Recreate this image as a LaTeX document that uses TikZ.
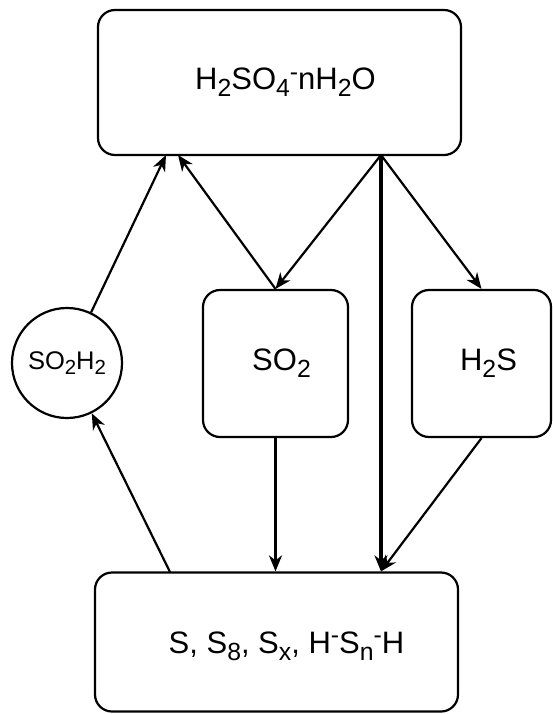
\documentclass[tikz,border=0pt]{standalone}
\usepackage{fontspec}
\setmainfont{Liberation Sans}
\usetikzlibrary{arrows.meta,calc}
\newcommand\sbs[1]{\raisebox{-0.22em}{\scalebox{0.8}{#1}}}
\newcommand\sps[1]{\raisebox{0.3em}{\scalebox{0.8}{#1}}}
\begin{document}
\begin{tikzpicture}[x=1pt,y=-1pt,
 box/.style={draw, line width=2.2pt, rounded corners=17pt, inner sep=0pt},
 circ/.style={draw, circle, line width=2.2pt, inner sep=0pt, minimum size=110pt},
 arr/.style={line width=2.2pt, -{Stealth[length=16pt,width=13pt,inset=5pt]}},
 txt/.style={font=\fontsize{31}{34}\selectfont},
 stxt/.style={font=\fontsize{25.5}{29}\selectfont}]
\useasboundingbox (0,0) rectangle (553,714);
\node[box, minimum width=363pt, minimum height=145pt,
  label={[txt,xshift=6pt]center:H\sbs{2}SO\sbs{4}\sps{-}nH\sbs{2}O}] (top) at (279.5,82.5) {};
\node[circ, label={[stxt]center:SO\sbs{2}H\sbs{2}}] (so2h2) at (67,363) {};
\node[box, minimum width=145pt, minimum height=147pt,
  label={[txt,xshift=6pt]center:SO\sbs{2}}] (so2) at (275.5,363.5) {};
\node[box, minimum width=139pt, minimum height=147pt,
  label={[txt,xshift=7pt]center:H\sbs{2}S}] (h2s) at (481.5,363.5) {};
\node[box, minimum width=363pt, minimum height=139pt,
  label={[txt,xshift=10pt,yshift=-4pt]center:S, S\sbs{8}, S\sbs{x}, H\sps{-}S\sbs{n}\sps{-}H}] (bot) at (276.5,642) {};
\coordinate (tA) at (166,155);
\coordinate (tB) at (178,155);
\coordinate (tC) at (381,155);
\coordinate (bA) at (170,572);
\draw[arr] (so2h2) -- (tA);
\draw[arr] (so2.north) -- (tB);
\draw[arr] (tC) -- (so2.north);
\draw[arr] (tC) -- (h2s.north);
\draw[arr, line width=3.2pt] (tC) -- (tC |- bot.north);
\draw[arr] (h2s.south) -- (tC |- bot.north);
\draw[arr] (so2.south) -- (so2.south |- bot.north);
\draw[arr] (bA) -- (so2h2);
\end{tikzpicture}
\end{document}
